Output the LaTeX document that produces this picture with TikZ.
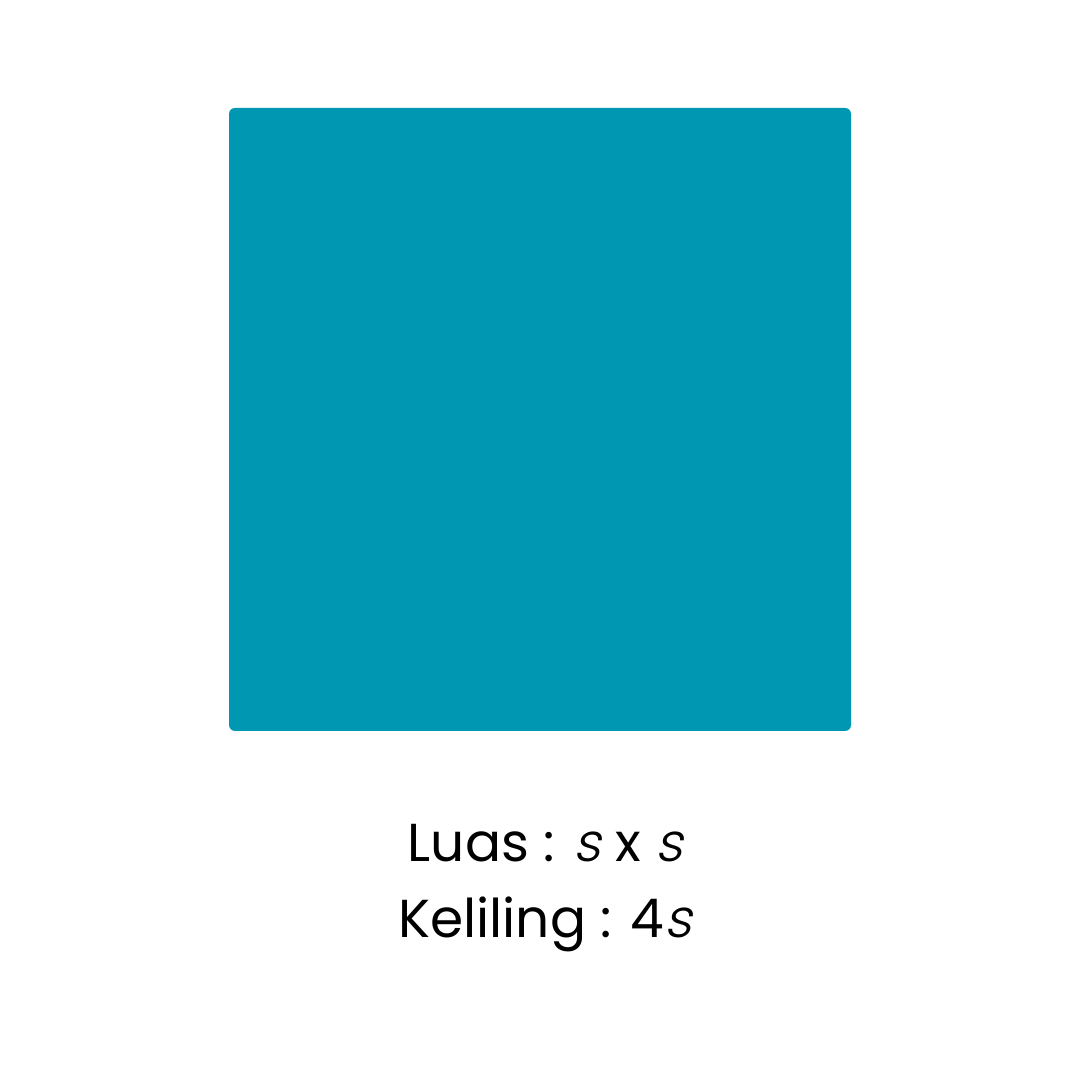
\documentclass[tikz,border=0pt]{standalone}
\usepackage{fontspec}
\setmainfont{Poppins}
\newfontfamily\tipisfont{Poppins Light}[FakeSlant=0.22]
\usepackage{tikz}
\usetikzlibrary{positioning}
\definecolor{ptosca}{HTML}{0097B2}
\tikzset{
  psisi/.style={fill=ptosca, rounded corners=0.6mm},
  prumus/.style={anchor=base, font=\fontsize{15.2}{19}\selectfont, inner sep=0pt, text=black},
}
\newcommand{\vs}{{\tipisfont s}}

\begin{document}
\begin{tikzpicture}[x=1cm,y=1cm]

  % latar
  \useasboundingbox (0,0) rectangle (10.8,10.8);
  \fill[white] (0,0) rectangle (10.8,10.8);

  % persegi
  \fill[psisi] (2.29,3.49) rectangle (8.51,9.72);

  % rumus
  \node[prumus] (luas) at (5.45,2.18) {Luas : \vs\ x \vs};
  \node[prumus] (keliling) at (5.45,1.42) {Keliling : 4\vs};

\end{tikzpicture}
\end{document}
